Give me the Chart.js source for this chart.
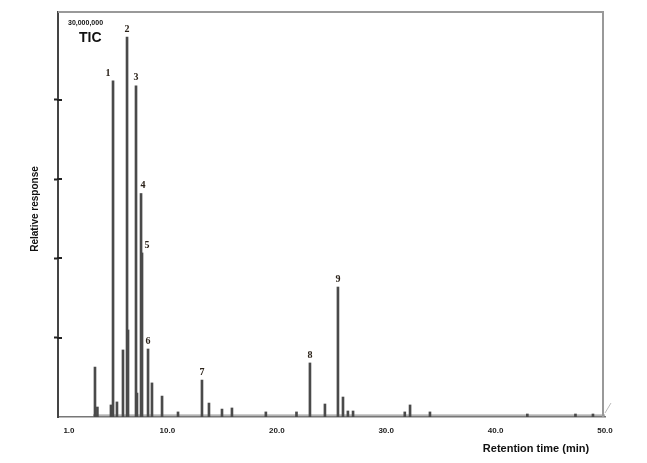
<!DOCTYPE html>
<html>
<head>
<meta charset="utf-8">
<script src="https://cdn.jsdelivr.net/npm/chart.js@4"></script>
<style>
  body { margin: 0; background: #fff; }
  #wrap { width: 647px; height: 463px; position: relative; }
</style>
</head>
<body>
<div id="wrap"><canvas id="tic"></canvas></div>
<script>
// retention time (min) and response (millions of counts) for each peak
const peakTimes = [3.38, 3.6, 4.84, 5.03, 5.39, 5.94, 6.31, 6.40, 7.13, 7.22, 7.59, 7.68, 8.23, 8.59, 9.51,
    10.97, 13.16, 13.80, 14.99, 15.9, 19.0, 21.8, 23.03, 24.4, 25.59, 26.05, 26.5, 26.97, 31.7, 32.18, 34.0,
    42.9, 47.3, 48.9];
const peakHeights = [3.15, 0.63, 0.76, 21.2, 0.95, 4.23, 23.97, 5.49, 20.9, 1.51, 14.1, 10.35, 4.29, 2.15, 1.32,
    0.32, 2.33, 0.88, 0.5, 0.57, 0.32, 0.32, 3.41, 0.82, 8.2, 1.26, 0.38, 0.38, 0.32, 0.76, 0.32,
    0.19, 0.19, 0.19];

// numbered peaks: label and index into peakTimes
const peakNames = ['1', '2', '3', '4', '5', '6', '7', '8', '9'];
const peakIndex = [3, 6, 8, 10, 11, 12, 16, 22, 24];

// baseline drift of the trace
const baselineTimes = [3.2, 50];
const baselineLevels = [0.12, 0.12];

const xTicks = [1, 10, 20, 30, 40, 50];
const yTicks = [5, 10, 15, 20];

const peakData = peakTimes.map((t, i) => ({ x: t, y: peakHeights[i] }));
const baseData = baselineTimes.map((t, i) => ({ x: t, y: baselineLevels[i] }));

const labelsPlugin = {
    id: 'peakLabels',
    afterDatasetsDraw(chart) {
        const ctx = chart.ctx;
        const xs = chart.scales.x, ys = chart.scales.y;
        const area = chart.chartArea;
        ctx.save();

        // frame top/right
        ctx.strokeStyle = '#999';
        ctx.lineWidth = 2;
        ctx.beginPath();
        ctx.moveTo(area.left, area.top);
        ctx.lineTo(area.right - 2, area.top);
        ctx.lineTo(area.right - 2, area.bottom);
        ctx.stroke();

        // y tick marks cross the axis
        ctx.strokeStyle = '#222';
        ctx.beginPath();
        yTicks.forEach(v => {
            const py = Math.round(ys.getPixelForValue(v));
            ctx.moveTo(area.left - 1, py);
            ctx.lineTo(area.left + 4, py);
        });
        ctx.stroke();

        // axis break mark
        ctx.strokeStyle = '#bbb';
        ctx.lineWidth = 1;
        ctx.beginPath();
        ctx.moveTo(area.right, area.bottom - 4);
        ctx.lineTo(area.right + 6, area.bottom - 14);
        ctx.stroke();

        // peak numbers
        const nudge = { '1': -5, '4': 2, '5': 5 };
        ctx.fillStyle = '#2a2118';
        ctx.font = 'bold 10px "Liberation Serif", "DejaVu Serif", serif';
        ctx.textAlign = 'center';
        ctx.textBaseline = 'bottom';
        peakNames.forEach((name, k) => {
            const i = peakIndex[k];
            const px = xs.getPixelForValue(peakTimes[i]) + (nudge[name] || 0);
            const py = ys.getPixelForValue(peakHeights[i]) - 3;
            ctx.fillText(name, px, py);
        });

        // annotations and titles
        ctx.fillStyle = '#111';
        ctx.textBaseline = 'middle';
        ctx.textAlign = 'left';
        ctx.font = 'bold 7px "Liberation Sans", Arial, sans-serif';
        ctx.fillText('30,000,000', 68, 23);
        ctx.font = 'bold 14px "Liberation Sans", Arial, sans-serif';
        ctx.fillText('TIC', 79, 38);

        ctx.font = 'bold 11px "Liberation Sans", Arial, sans-serif';
        ctx.textAlign = 'center';
        ctx.fillText('Retention time (min)', 536, 449);

        ctx.translate(35, 209);
        ctx.rotate(-Math.PI / 2);
        ctx.font = 'bold 10px "Liberation Sans", Arial, sans-serif';
        ctx.fillText('Relative response', 0, 0);
        ctx.restore();
    }
};

new Chart(document.getElementById('tic'), {
    type: 'bar',
    data: {
        datasets: [{
            type: 'line',
            label: 'baseline',
            data: baseData,
            borderColor: '#9a9a9a',
            borderWidth: 1.2,
            pointRadius: 0,
            order: 2
        }, {
            label: 'TIC',
            data: peakData,
            backgroundColor: '#4a4a4a',
            borderWidth: 0,
            barThickness: 2,
            order: 1
        }]
    },
    options: {
        responsive: true,
        maintainAspectRatio: false,
        animation: false,
        layout: { padding: { top: 12, right: 42, left: 0, bottom: 0 } },
        plugins: { legend: { display: false }, tooltip: { enabled: false } },
        scales: {
            x: {
                type: 'linear',
                min: 0,
                max: 50,
                offset: false,
                afterBuildTicks: s => { s.ticks = xTicks.map(v => ({ value: v })); },
                afterFit: s => { s.height = 46; },
                ticks: {
                    color: '#222',
                    padding: 9,
                    maxRotation: 0,
                    font: { family: '"Liberation Sans", Arial, sans-serif', size: 8, weight: 'bold' },
                    callback: v => v.toFixed(1)
                },
                grid: { drawOnChartArea: false, drawTicks: false, offset: false },
                border: { color: '#777', width: 1.5 }
            },
            y: {
                min: 0,
                max: 25.55,
                afterBuildTicks: s => { s.ticks = yTicks.map(v => ({ value: v })); },
                afterFit: s => { s.width = 58; },
                ticks: { display: false },
                grid: { drawOnChartArea: false, tickLength: 4, tickWidth: 2, tickColor: '#222' },
                border: { color: '#444', width: 2 }
            }
        }
    },
    plugins: [labelsPlugin]
});
</script>
</body>
</html>
